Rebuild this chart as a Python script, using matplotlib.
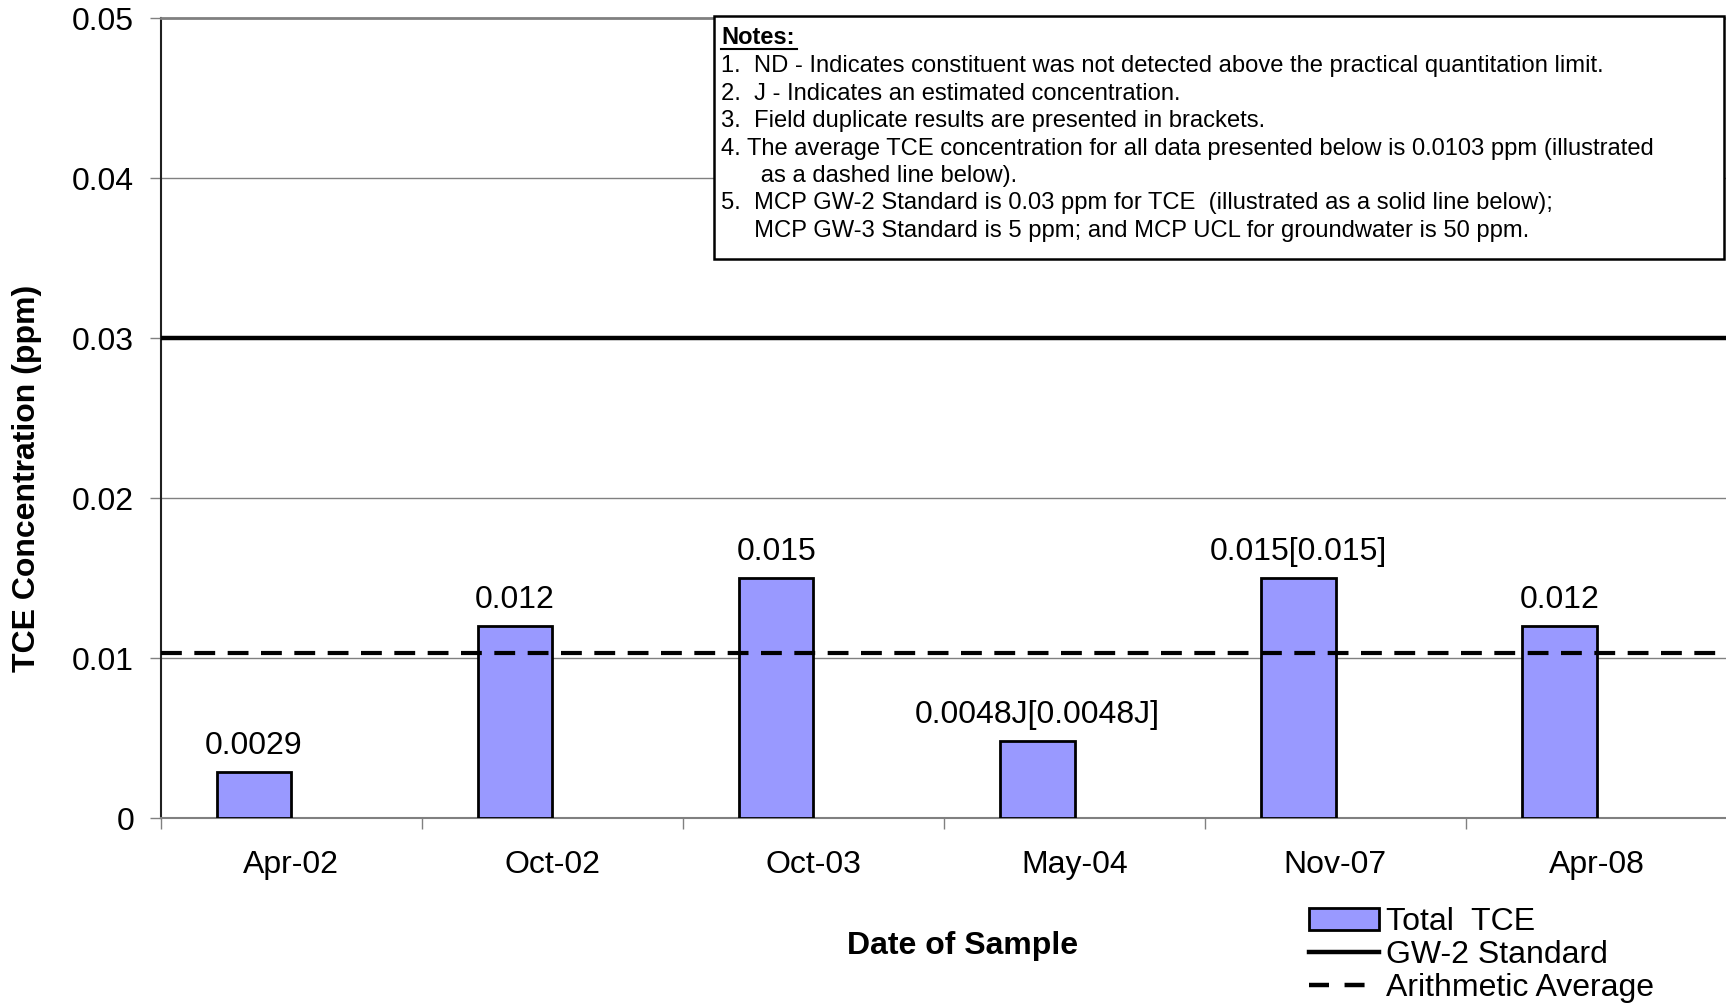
import matplotlib.pyplot as plt
from matplotlib.patches import Patch, Rectangle
from matplotlib.lines import Line2D
import numpy as np

dates = ["Apr-02", "Oct-02", "Oct-03", "May-04", "Nov-07", "Apr-08"]
tce = [0.0029, 0.012, 0.015, 0.0048, 0.015, 0.012]
bar_labels = ["0.0029", "0.012", "0.015", "0.0048J[0.0048J]", "0.015[0.015]", "0.012"]
gw2_standard = 0.03
average = 0.0103
yticks = [0, 0.01, 0.02, 0.03, 0.04, 0.05]
ytick_labels = ["0", "0.01", "0.02", "0.03", "0.04", "0.05"]
notes = [
    "1.  ND - Indicates constituent was not detected above the practical quantitation limit.",
    "2.  J - Indicates an estimated concentration.",
    "3.  Field duplicate results are presented in brackets.",
    "4. The average TCE concentration for all data presented below is 0.0103 ppm (illustrated",
    "      as a dashed line below).",
    "5.  MCP GW-2 Standard is 0.03 ppm for TCE  (illustrated as a solid line below);",
    "     MCP GW-3 Standard is 5 ppm; and MCP UCL for groundwater is 50 ppm.",
]

plt.rcParams['font.family'] = ['Liberation Sans', 'DejaVu Sans']

W, H = 1726, 1005
fig = plt.figure(figsize=(W / 100, H / 100), dpi=100)


def fx(px):
    return px / W


def fy(py):
    return 1 - py / H


ax = fig.add_axes([fx(160.5), fy(818), fx(1727) - fx(160.5), fy(18.3) - fy(818)])

x = np.arange(len(dates))
bar_off = -0.142
bar_w = 0.286
bars = ax.bar(x + bar_off, tce, width=bar_w, color='#9999FF', edgecolor='black', linewidth=2, zorder=3)
for xi, v, lab in zip(x, tce, bar_labels):
    ax.annotate(lab, (xi + bar_off, v), xytext=(0, 8), textcoords='offset points',
                ha='center', va='bottom', fontsize=23)

ax.axhline(gw2_standard, color='black', linewidth=3.2, zorder=4)
ax.axhline(average, color='black', linewidth=3, dashes=(5, 3), zorder=4)

ax.set_xlim(-0.5, len(dates) - 0.5)
ax.set_ylim(0, 0.05)
ax.set_yticks(yticks)
ax.set_yticklabels(ytick_labels, fontsize=23)
ax.set_xticks(x)
ax.set_xticklabels(dates, fontsize=23)
ax.set_xticks(np.arange(len(dates) + 1) - 0.5, minor=True)
ax.tick_params(axis='x', which='major', length=0, pad=23)
ax.tick_params(axis='x', which='minor', length=8, width=1, color='#808080')
ax.tick_params(axis='y', length=8, width=1, color='#808080', pad=11)

for yv in yticks[1:-1]:
    ax.axhline(yv, color='#808080', linewidth=1, zorder=1)
ax.spines['top'].set_color('#808080')
ax.spines['top'].set_linewidth(2)
ax.spines['right'].set_visible(False)
ax.spines['left'].set_color('#202020')
ax.spines['left'].set_linewidth(1.5)
ax.spines['bottom'].set_color('#808080')
ax.spines['bottom'].set_linewidth(1.5)

fig.text(fx(27.5), fy(478), "TCE Concentration (ppm)", rotation=90, ha='center', va='center',
         fontsize=23, fontweight='bold')
fig.text(fx(963), fy(946), "Date of Sample", ha='center', va='center', fontsize=23, fontweight='bold')

# notes box
fig.patches.append(Rectangle((fx(714), fy(259)), fx(1724) - fx(714), fy(16.5) - fy(259),
                             transform=fig.transFigure, facecolor='white', edgecolor='black',
                             linewidth=1.8, zorder=5))
fig.text(fx(721), fy(37), "Notes:", ha='left', va='center', fontsize=17, fontweight='bold', zorder=6)
fig.add_artist(Line2D([fx(721), fx(797)], [fy(49), fy(49)], color='black', linewidth=1.5, zorder=6))
for i, line in enumerate(notes):
    fig.text(fx(721), fy(66 + 27.5 * i), line, ha='left', va='center', fontsize=17.1, zorder=6)

handles = [Patch(facecolor='#9999FF', edgecolor='black', linewidth=2),
           Line2D([], [], color='black', linewidth=3.2),
           Line2D([], [], color='black', linewidth=3.2, dashes=(4.5, 3.5))]
fig.legend(handles, ["Total  TCE", "GW-2 Standard", "Arithmetic Average"],
           loc='upper left', bbox_to_anchor=(fx(1293), fy(891)), frameon=False, fontsize=23,
           handlelength=2.2, handletextpad=0.2, labelspacing=0.1, borderpad=0)

fig.savefig('out.png', dpi=100)
